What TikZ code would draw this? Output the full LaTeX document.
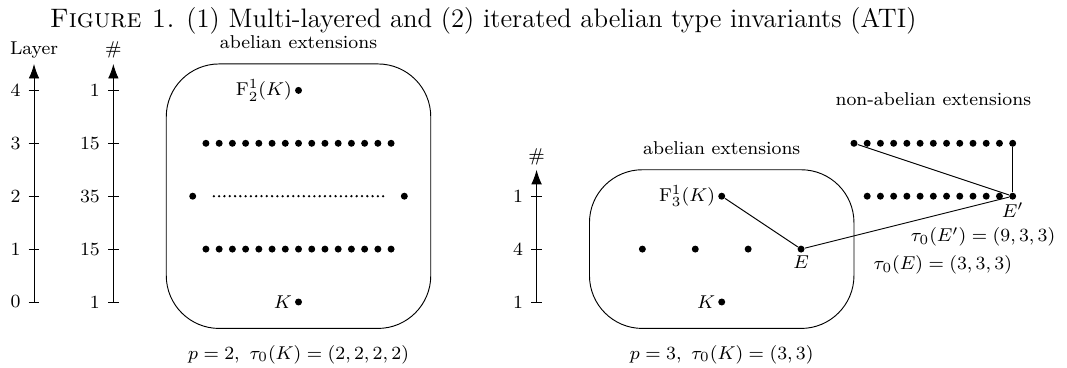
\documentclass[tikz,border=0pt]{standalone}
\usepackage{amsmath,amssymb}
\usetikzlibrary{arrows.meta,positioning}
\tikzset{
  dot/.style     = {circle, fill=black, inner sep=0pt, minimum size=3pt},
  tinydot/.style = {circle, fill=black, inner sep=0pt, minimum size=1.1pt},
  axis/.style    = {-{Latex[length=2.2mm,width=1.6mm]}},
  tickmark/.style= {font=\footnotesize, left},
  region/.style  = {draw, rounded corners=0.8cm, inner sep=0pt},
  lab/.style     = {font=\footnotesize},
  dotlab/.style  = {font=\footnotesize, inner sep=1pt},
}

\begin{document}
\begin{tikzpicture}[x=0.8cm,y=0.8cm]
    \useasboundingbox (-5.643,-1.229) rectangle (14.527,5.709);
    \node[anchor=base,font=\fontsize{11.5}{13}\selectfont] (cap) at (3.49,5.18) {\textsc{Figure 1.} (1) Multi-layered and (2) iterated abelian type invariants (ATI)};
    % axes of the first picture
    \coordinate (lbot) at (-5,0); \coordinate (ltop) at (-5,4.5);
    \coordinate (nbot) at (-3.5,0); \coordinate (ntop) at (-3.5,4.5);
    \draw[axis] (lbot) -- (ltop);
    \draw[axis] (nbot) -- (ntop);
    \node[lab,anchor=base] (layer) at (-5,4.68) {Layer};
    \node[lab,anchor=base] (num) at (-3.5,4.68) {\#};
    \foreach \y/\n in {0/1,1/15,2/35,3/15,4/1} {
      \draw (-5.1,\y) node[tickmark] {\y} -- (-4.9,\y);
      \draw (-3.6,\y) node[tickmark] {\n} -- (-3.4,\y);
    }
    % first picture, p = 2
    \node[region,minimum width=4cm,minimum height=4cm] (abtwo) at (0,2) {};
    \node[lab,above=1mm of abtwo] (abtwolab) {abelian extensions};
    \node[lab,below=1.2mm of abtwo] (ptwo) {$p=2,\ \tau_0(K)=(2,2,2,2)$};
    \node[dot,label={[dotlab]left:$\mathrm{F}^1_2(K)$}] (Ftwo) at (0,4) {};
    \node[dot,label={[dotlab]left:$K$}] (Ktwo) at (0,0) {};
    \foreach \i in {-7,...,7} {
      \node[dot] (lthree\i) at (\i*0.25,3) {};
      \node[dot] (lone\i) at (\i*0.25,1) {};
    }
    \node[dot] (ltwoa) at (-2,2) {};
    \node[dot] (ltwob) at (2,2) {};
    \foreach \i in {-16,...,16} \node[tinydot] (ltwo\i) at (\i*0.1,2) {};
    % second picture, p = 3
    \coordinate (mbot) at (4.5,0); \coordinate (mtop) at (4.5,2.5);
    \draw[axis] (mbot) -- (mtop);
    \node[lab,anchor=base] (numr) at (4.5,2.65) {\#};
    \foreach \y/\n in {0/1,1/4,2/1}
      \draw (4.4,\y) node[tickmark] {\n} -- (4.6,\y);
    \node[region,minimum width=4cm,minimum height=2.4cm] (abthree) at (8,1) {};
    \node[lab,above=1mm of abthree] (abthreelab) {abelian extensions};
    \node[lab,below=1.2mm of abthree] (pthree) {$p=3,\ \tau_0(K)=(3,3)$};
    \node[dot,label={[dotlab]left:$\mathrm{F}^1_3(K)$}] (Fthree) at (8,2) {};
    \node[dot,label={[dotlab]left:$K$}] (Kthree) at (8,0) {};
    \foreach \x in {6.5,7.5,8.5} \node[dot] at (\x,1) {};
    \node[dot,label={[dotlab]below:$E$}] (E) at (9.5,1) {};
    \node[dot,label={[dotlab]below:$E'$}] (Ep) at (13.5,2) {};
    \foreach \i in {0,...,10} \node[dot] (ntwo\i) at (10.75+\i*0.25,2) {};
    \foreach \i in {0,...,12} \node[dot] (nthree\i) at (10.5+\i*0.25,3) {};
    \node[lab] (nonab) at (12,3.84) {non-abelian extensions};
    \node[lab] (tauEp) at (12.94,1.23) {$\tau_0(E')=(9,3,3)$};
    \node[lab] (tauE) at (12.18,0.70) {$\tau_0(E)=(3,3,3)$};
    \draw (Fthree) -- (E) -- (Ep) -- (nthree0);
    \draw (Ep) -- (nthree12);
  \end{tikzpicture}
\end{document}
